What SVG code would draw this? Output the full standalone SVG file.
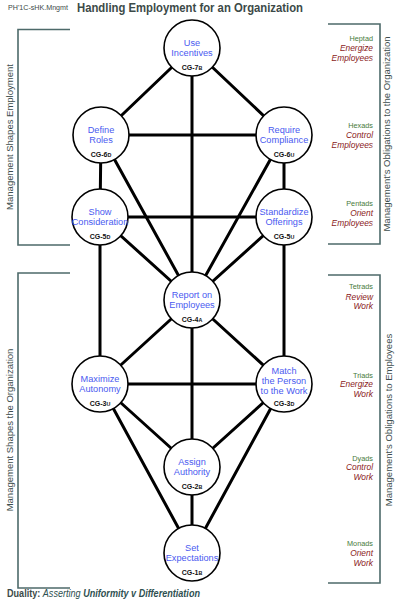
<svg xmlns="http://www.w3.org/2000/svg" width="400" height="601" viewBox="0 0 400 601">
<style>
.bg{fill:#ffffff}
.edge{stroke:#000;stroke-width:3;stroke-linecap:round;fill:none}
.node circle{fill:#fff;stroke:#000;stroke-width:1.6}
.lbl{font-family:"Liberation Sans",Arial,sans-serif;font-size:9.2px;fill:#4a5af0;text-anchor:middle}
.cg{font-family:"Liberation Sans",Arial,sans-serif;font-size:7px;font-weight:bold;fill:#111;text-anchor:middle}
.cg tspan{font-size:5.4px}
.brk{stroke:#4d6a6a;stroke-width:1.6;fill:none}
.side{font-family:"Liberation Sans",Arial,sans-serif;font-size:9.5px;fill:#3d4d4d;text-anchor:middle}
.lvl{font-family:"Liberation Sans",Arial,sans-serif;font-size:7.3px;fill:#477a3a;text-anchor:end}
.ob{font-family:"Liberation Sans",Arial,sans-serif;font-size:8.4px;font-style:italic;fill:#8a1a1a;text-anchor:end}
.title{font-family:"Liberation Sans",Arial,sans-serif;font-size:12.5px;font-weight:bold;fill:#3c4a48}
.code{font-family:"Liberation Sans",Arial,sans-serif;font-size:6.5px;fill:#3c4a48}
.dual{font-family:"Liberation Sans",Arial,sans-serif;font-size:10px;fill:#2e5050}
</style>
<rect class="bg" x="0" y="0" width="400" height="601"/>

<text class="code" x="8" y="10" textLength="60" lengthAdjust="spacingAndGlyphs">PH'1C-sHK.Mngmt</text>
<text class="title" x="77" y="12" textLength="226" lengthAdjust="spacingAndGlyphs">Handling Employment for an Organization</text>

<g id="brackets">
<path class="brk" d="M70,29.5 H18 V245 H70"/>
<path class="brk" d="M70,273 H18 V588 H70"/>
<path class="brk" d="M328,24 H380 V244 H328"/>
<path class="brk" d="M328,275 H380 V583 H328"/>
</g>

<text class="side" transform="translate(13,137) rotate(-90)">Management Shapes Employment</text>
<text class="side" transform="translate(13,430) rotate(-90)">Management Shapes the Organization</text>
<text class="side" transform="translate(390,134) rotate(-90)">Management's Obligations to the Organization</text>
<text class="side" transform="translate(392,420) rotate(-90)">Management's Obligations to Employees</text>

<g id="levels">
<text class="lvl" x="373" y="40.5">Heptad</text>
<text class="ob" x="373" y="51">Energize</text>
<text class="ob" x="373" y="60.5">Employees</text>
<text class="lvl" x="373" y="127.5">Hexads</text>
<text class="ob" x="373" y="138">Control</text>
<text class="ob" x="373" y="147.5">Employees</text>
<text class="lvl" x="373" y="206">Pentads</text>
<text class="ob" x="373" y="216">Orient</text>
<text class="ob" x="373" y="225.5">Employees</text>
<text class="lvl" x="373" y="289">Tetrads</text>
<text class="ob" x="373" y="300">Review</text>
<text class="ob" x="373" y="309">Work</text>
<text class="lvl" x="373" y="377.5">Triads</text>
<text class="ob" x="373" y="387">Energize</text>
<text class="ob" x="373" y="396.5">Work</text>
<text class="lvl" x="373" y="460.5">Dyads</text>
<text class="ob" x="373" y="470">Control</text>
<text class="ob" x="373" y="480">Work</text>
<text class="lvl" x="373" y="545.5">Monads</text>
<text class="ob" x="373" y="556">Orient</text>
<text class="ob" x="373" y="565.5">Work</text>
</g>

<g id="connectors">
<line class="edge" x1="192" y1="48" x2="101" y2="135"/>
<line class="edge" x1="192" y1="48" x2="284" y2="135"/>
<line class="edge" x1="192" y1="48" x2="192" y2="300"/>
<line class="edge" x1="101" y1="135" x2="284" y2="135"/>
<line class="edge" x1="101" y1="135" x2="100" y2="217"/>
<line class="edge" x1="101" y1="135" x2="192" y2="300"/>
<line class="edge" x1="284" y1="135" x2="284" y2="217"/>
<line class="edge" x1="284" y1="135" x2="192" y2="300"/>
<line class="edge" x1="100" y1="217" x2="284" y2="217"/>
<line class="edge" x1="100" y1="217" x2="192" y2="300"/>
<line class="edge" x1="284" y1="217" x2="192" y2="300"/>
<line class="edge" x1="100" y1="217" x2="100" y2="384"/>
<line class="edge" x1="284" y1="217" x2="284" y2="384"/>
<line class="edge" x1="192" y1="300" x2="100" y2="384"/>
<line class="edge" x1="192" y1="300" x2="284" y2="384"/>
<line class="edge" x1="192" y1="300" x2="192" y2="467"/>
<line class="edge" x1="100" y1="384" x2="284" y2="384"/>
<line class="edge" x1="100" y1="384" x2="192" y2="467"/>
<line class="edge" x1="284" y1="384" x2="192" y2="467"/>
<line class="edge" x1="100" y1="384" x2="192" y2="553"/>
<line class="edge" x1="284" y1="384" x2="192" y2="553"/>
<line class="edge" x1="192" y1="467" x2="192" y2="553"/>
</g>

<g id="use-incentives" class="node">
<circle cx="192" cy="48" r="28"/>
<text class="lbl" x="192" y="45.5">Use</text>
<text class="lbl" x="192" y="55.5">Incentives</text>
<text class="cg" x="192" y="69.5">CG-7<tspan>B</tspan></text>
</g>
<g id="define-roles" class="node">
<circle cx="101" cy="135" r="28"/>
<text class="lbl" x="101" y="132.5">Define</text>
<text class="lbl" x="101" y="142.5">Roles</text>
<text class="cg" x="101" y="156.5">CG-6<tspan>D</tspan></text>
</g>
<g id="require-compliance" class="node">
<circle cx="284" cy="135" r="28"/>
<text class="lbl" x="284" y="132.5">Require</text>
<text class="lbl" x="284" y="142.5">Compliance</text>
<text class="cg" x="284" y="156.5">CG-6<tspan>U</tspan></text>
</g>
<g id="show-consideration" class="node">
<circle cx="100" cy="217" r="28"/>
<text class="lbl" x="100" y="214.5">Show</text>
<text class="lbl" x="100" y="224.5">Consideration</text>
<text class="cg" x="100" y="238.5">CG-5<tspan>D</tspan></text>
</g>
<g id="standardize-offerings" class="node">
<circle cx="284" cy="217" r="28"/>
<text class="lbl" x="284" y="214.5">Standardize</text>
<text class="lbl" x="284" y="224.5">Offerings</text>
<text class="cg" x="284" y="238.5">CG-5<tspan>U</tspan></text>
</g>
<g id="report-on-employees" class="node">
<circle cx="192" cy="300" r="28"/>
<text class="lbl" x="192" y="297.5">Report on</text>
<text class="lbl" x="192" y="307.5">Employees</text>
<text class="cg" x="192" y="321.5">CG-4<tspan>A</tspan></text>
</g>
<g id="maximize-autonomy" class="node">
<circle cx="100" cy="384" r="28"/>
<text class="lbl" x="100" y="381.5">Maximize</text>
<text class="lbl" x="100" y="391.5">Autonomy</text>
<text class="cg" x="100" y="405.5">CG-3<tspan>U</tspan></text>
</g>
<g id="match-person-work" class="node">
<circle cx="284" cy="384" r="28"/>
<text class="lbl" x="284" y="374">Match</text>
<text class="lbl" x="284" y="384">the Person</text>
<text class="lbl" x="284" y="393.5">to the Work</text>
<text class="cg" x="284" y="405.5">CG-3<tspan>D</tspan></text>
</g>
<g id="assign-authority" class="node">
<circle cx="192" cy="467" r="28"/>
<text class="lbl" x="192" y="464.5">Assign</text>
<text class="lbl" x="192" y="474.5">Authority</text>
<text class="cg" x="192" y="488.5">CG-2<tspan>B</tspan></text>
</g>
<g id="set-expectations" class="node">
<circle cx="192" cy="553" r="28"/>
<text class="lbl" x="192" y="550.5">Set</text>
<text class="lbl" x="192" y="560.5">Expectations</text>
<text class="cg" x="192" y="574.5">CG-1<tspan>B</tspan></text>
</g>

<text class="dual" x="7" y="597" textLength="193" lengthAdjust="spacingAndGlyphs"><tspan font-weight="bold" fill="#3c4a48">Duality:</tspan> <tspan font-style="italic">Asserting</tspan> <tspan font-style="italic" font-weight="bold">Uniformity v Differentiation</tspan></text>
</svg>
